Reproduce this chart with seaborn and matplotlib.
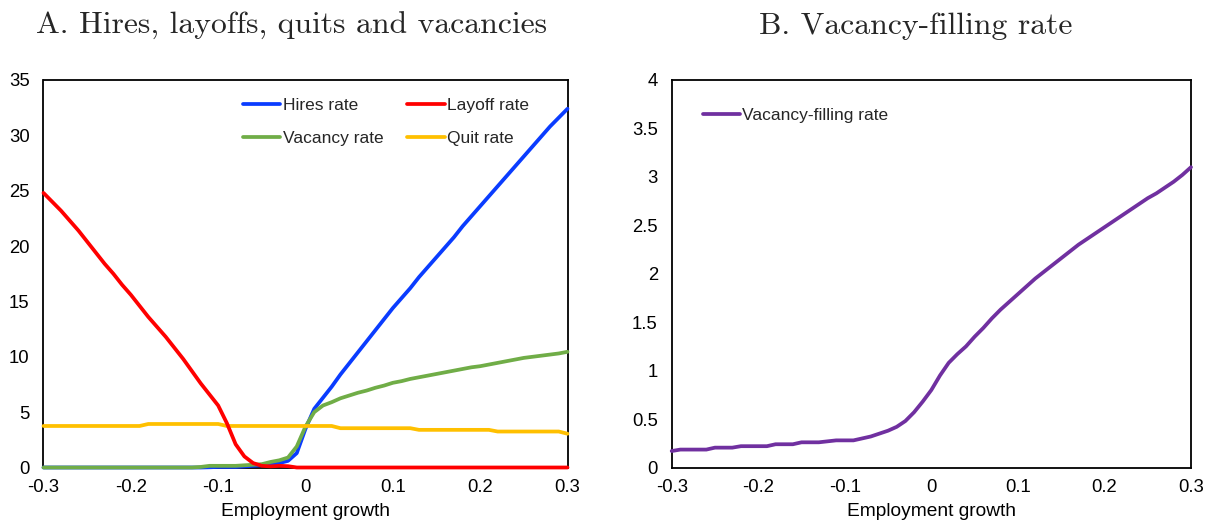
import numpy as np
import pandas as pd
import matplotlib
matplotlib.use("Agg")
import matplotlib.pyplot as plt
from matplotlib.ticker import FuncFormatter, MultipleLocator
import seaborn as sns

# Employment growth grid
growth = np.round(np.arange(-0.30, 0.3001, 0.01), 2)

hires_rate = [
    0, 0, 0, 0, 0, 0, 0, 0, 0, 0,
    0, 0, 0, 0, 0, 0, 0, 0, 0, 0.02,
    0.05, 0.05, 0.05, 0.1, 0.15, 0.2, 0.3, 0.4, 0.6, 1.3,
    3.5, 5.3, 6.3, 7.3, 8.4, 9.4, 10.4, 11.4, 12.4, 13.4,
    14.4, 15.3, 16.2, 17.2, 18.1, 19.0, 19.9, 20.8, 21.8, 22.7,
    23.6, 24.5, 25.4, 26.3, 27.2, 28.1, 29.0, 29.9, 30.8, 31.6,
    32.4,
]
layoff_rate = [
    24.8, 24.0, 23.2, 22.3, 21.4, 20.4, 19.4, 18.4, 17.5, 16.5,
    15.6, 14.6, 13.6, 12.7, 11.8, 10.8, 9.8, 8.7, 7.6, 6.6,
    5.6, 4.0, 2.1, 1.0, 0.4, 0.15, 0.1, 0.15, 0.12, 0,
    0, 0, 0, 0, 0, 0, 0, 0, 0, 0,
    0, 0, 0, 0, 0, 0, 0, 0, 0, 0,
    0, 0, 0, 0, 0, 0, 0, 0, 0, 0,
    0,
]
vacancy_rate = [
    0, 0, 0, 0, 0, 0, 0, 0, 0, 0,
    0, 0, 0, 0, 0, 0, 0, 0, 0.05, 0.15,
    0.15, 0.15, 0.15, 0.2, 0.25, 0.3, 0.5, 0.65, 0.9, 1.9,
    3.7, 5.0, 5.6, 5.9, 6.25, 6.5, 6.75, 6.95, 7.2, 7.4,
    7.65, 7.8, 8.0, 8.15, 8.3, 8.45, 8.6, 8.75, 8.9, 9.05,
    9.15, 9.3, 9.45, 9.6, 9.75, 9.9, 10.0, 10.1, 10.2, 10.3,
    10.45,
]
quit_rate = [
    3.75, 3.75, 3.75, 3.75, 3.75, 3.75, 3.75, 3.75, 3.75, 3.75,
    3.75, 3.75, 3.93, 3.93, 3.93, 3.93, 3.93, 3.93, 3.93, 3.93,
    3.93, 3.75, 3.75, 3.75, 3.75, 3.75, 3.75, 3.75, 3.75, 3.75,
    3.75, 3.75, 3.75, 3.75, 3.55, 3.55, 3.55, 3.55, 3.55, 3.55,
    3.55, 3.55, 3.55, 3.4, 3.4, 3.4, 3.4, 3.4, 3.4, 3.4,
    3.4, 3.4, 3.25, 3.25, 3.25, 3.25, 3.25, 3.25, 3.25, 3.25,
    3.05,
]
vacancy_filling_rate = [
    0.17, 0.185, 0.185, 0.185, 0.185, 0.205, 0.205, 0.205, 0.22, 0.22,
    0.22, 0.22, 0.24, 0.24, 0.24, 0.26, 0.26, 0.26, 0.27, 0.28,
    0.28, 0.28, 0.30, 0.32, 0.35, 0.38, 0.42, 0.48, 0.57, 0.68,
    0.80, 0.95, 1.08, 1.17, 1.25, 1.35, 1.44, 1.54, 1.63, 1.71,
    1.79, 1.87, 1.95, 2.02, 2.09, 2.16, 2.23, 2.30, 2.36, 2.42,
    2.48, 2.54, 2.60, 2.66, 2.72, 2.78, 2.83, 2.89, 2.95, 3.02,
    3.10,
]

series_a = {
    "Hires rate": (hires_rate, "#0A3CFF"),
    "Vacancy rate": (vacancy_rate, "#70AD47"),
    "Quit rate": (quit_rate, "#FFC000"),
    "Layoff rate": (layoff_rate, "#FF0000"),
}
legend_order_a = ["Hires rate", "Vacancy rate", "Layoff rate", "Quit rate"]

sns.set_theme(style="white")
plt.rcParams["font.family"] = ["Liberation Sans", "DejaVu Sans"]
plt.rcParams["axes.unicode_minus"] = False

fig = plt.figure(figsize=(12.05, 5.25), dpi=100)
ax_a = fig.add_axes([43.5 / 1205, 57.5 / 525, 524 / 1205, 387.5 / 525])
ax_b = fig.add_axes([671.7 / 1205, 57.5 / 525, 519.3 / 1205, 387.5 / 525])

fmt = FuncFormatter(lambda v, p: f"{v:g}")
LW = 2.7

# Panel A: flows
frame_a = pd.DataFrame({"growth": growth})
for name, (vals, color) in series_a.items():
    frame_a[name] = vals
for name, (vals, color) in series_a.items():
    sns.lineplot(data=frame_a, x="growth", y=name, ax=ax_a, color=color,
                 linewidth=LW, label=name, clip_on=False, zorder=5)

ax_a.set_xlim(-0.3, 0.3)
ax_a.set_ylim(0, 35)
ax_a.yaxis.set_major_locator(MultipleLocator(5))

handles, labels = ax_a.get_legend_handles_labels()
hmap = dict(zip(labels, handles))
ax_a.legend([hmap[k] for k in legend_order_a], legend_order_a, ncol=2,
            loc="upper left", bbox_to_anchor=(0.381, 0.954), frameon=False,
            fontsize=12.5, handlelength=2.15, handletextpad=0.12,
            columnspacing=1.4, labelspacing=1.03, borderpad=0,
            borderaxespad=0)

# Panel B: vacancy-filling rate
frame_b = pd.DataFrame({"growth": growth, "Vacancy-filling rate": vacancy_filling_rate})
sns.lineplot(data=frame_b, x="growth", y="Vacancy-filling rate", ax=ax_b,
             color="#7030A0", linewidth=LW, label="Vacancy-filling rate",
             clip_on=False, zorder=5)
ax_b.set_xlim(-0.3, 0.3)
ax_b.set_ylim(0, 4)
ax_b.yaxis.set_major_locator(MultipleLocator(0.5))
ax_b.legend(loc="upper left", bbox_to_anchor=(0.060, 0.928), frameon=False,
            fontsize=12.5, handlelength=2.15, handletextpad=0.12, borderpad=0,
            borderaxespad=0)

for ax in (ax_a, ax_b):
    ax.xaxis.set_major_locator(MultipleLocator(0.1))
    ax.xaxis.set_major_formatter(fmt)
    ax.yaxis.set_major_formatter(fmt)
    ax.set_xlabel("Employment growth", fontsize=13.8, color="black", labelpad=5)
    ax.set_ylabel("")
    ax.tick_params(axis="both", length=0, labelsize=13.3, colors="black")
    ax.tick_params(axis="x", pad=8)
    ax.tick_params(axis="y", pad=10)
    for sp in ax.spines.values():
        sp.set_visible(True)
        sp.set_color("black")
        sp.set_linewidth(1.3)
        sp.set_zorder(2)
    ax.grid(False)
    ax.set_facecolor("white")

fig.text(292 / 1205, 1 - 34 / 525, "A. Hires, layoffs, quits and vacancies",
         family="cmr10", fontsize=22.8, ha="center", va="baseline")
fig.text(916 / 1205, 1 - 34 / 525, "B. Vacancy-filling rate",
         family="cmr10", fontsize=22.8, ha="center", va="baseline")

fig.savefig("out.png", dpi=100, facecolor="white")
